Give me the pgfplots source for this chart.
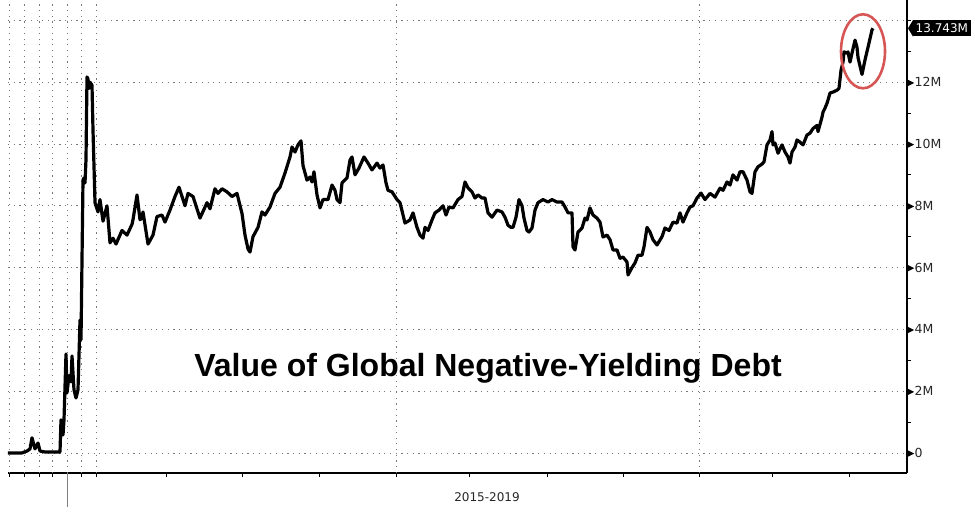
\documentclass[border=0pt]{standalone}
\usepackage{pgfplots}
\pgfplotsset{compat=1.18}
\usepackage{fontspec}
\setmainfont{DejaVu Sans}
\newfontfamily\titlefont{Liberation Sans}
\newcommand{\tri}{\tikz[baseline={(0,-7.4pt)}]\fill[black] (0,0) -- (0,-7pt) -- (7pt,-3.5pt) -- cycle;\hspace{0.5pt}}
\definecolor{gridc}{RGB}{120,120,120}
\definecolor{ringred}{RGB}{214,86,86}
\begin{document}
\begin{tikzpicture}
\useasboundingbox (0,0) rectangle (976pt,511pt);
\begin{axis}[
  at={(8pt,38pt)}, anchor=south west,
  scale only axis, width=899pt, height=473pt,
  xmin=8, xmax=907, ymin=-0.65, ymax=14.66,
  axis x line=bottom, axis y line=right,
  axis line style={-, line width=1.2pt, black},
  xtick={9,24,39,52,67,81,96,166,242,319,396,469,547,623,699,772,849},
  xticklabels={},
  extra x ticks={9,24,39,52,67,81,96,396,699},
  extra x tick labels={},
  extra x tick style={grid=major},
  ytick={0,2,4,6,8,10,12,14},
  yticklabels={\tri0,\tri2M,\tri4M,\tri6M,\tri8M,\tri10M,\tri12M,},
  minor ytick={1,3,5,7,9,11,13},
  ymajorgrids,
  tick align=outside,
  major tick length=4pt, minor tick length=4pt,
  tick style={black, line width=0.8pt},
  major grid style={gridc, line width=0.8pt, dash pattern=on 1.2pt off 4.5pt},
  yticklabel style={anchor=west, inner sep=0pt, xshift=-4pt, font=\fontsize{12.5}{14}\selectfont, text=black!85},
  clip=false,
]
\addplot[black, line width=3.2pt, line join=round] coordinates {
(8,0) (22,0) (27,0.06) (30,0.13) (32,0.49) (35,0.13) (38,0.32) (40,0.06) (45,0.03) (60,0.03)
(61,1.07) (63,0.58) (64,1.07) (66,3.2) (67,1.94) (69,2.5) (71,2.3) (72,3.14) (74,2.04) (76,1.78)
(78,2.04) (80,4.3) (81,3.66) (83,8.83) (84,8.9) (85,8.74) (86,9.5) (87,12.17) (88,12.1) (89,11.8)
(90,12.0) (92,11.9) (93,10.45) (95,8.1) (98,7.8) (100,8.2) (103,7.5) (107,8.0) (110,6.8) (113,6.95)
(116,6.76) (122,7.2) (127,7.05) (132,7.4) (133,7.55) (137,8.35) (140,7.55) (142,7.6) (143,7.8) (148,6.76)
(153,7.05) (157,7.65) (162,7.7) (165,7.47) (170,7.86) (175,8.3) (179,8.6) (185,8.0) (188,8.4) (193,8.3)
(200,7.6) (207,8.1) (210,7.9) (215,8.55) (218,8.4) (222,8.55) (227,8.45) (232,8.3) (237,8.4) (242,7.75)
(245,7.05) (248,6.6) (250,6.5) (253,7.0) (258,7.3) (262,7.8) (265,7.7) (270,7.96) (275,8.4) (280,8.6)
(285,9.06) (290,9.58) (292,9.9) (295,9.74) (298,9.97) (301,10.1) (303,9.3) (307,8.83) (310,8.93) (312,8.77)
(314,9.1) (317,8.35) (320,7.93) (323,8.2) (328,8.2) (332,8.67) (335,8.5) (337,8.2) (340,8.1) (342,8.74)
(347,8.9) (350,9.48) (352,9.58) (355,9.0) (359,9.22) (364,9.58) (368,9.38) (372,9.16) (377,9.38) (380,9.22)
(383,9.32) (386,8.74) (388,8.5) (392,8.45) (397,8.2) (400,8.1) (405,7.44) (410,7.54) (413,7.77) (417,7.3)
(420,7.05) (423,6.95) (425,7.3) (428,7.2) (432,7.54) (435,7.77) (439,7.86) (443,8.0) (446,7.7) (449,7.96)
(453,7.93) (458,8.2) (462,8.3) (465,8.77) (468,8.58) (472,8.45) (475,8.25) (478,8.35) (482,8.25) (485,8.25)
(488,7.77) (492,7.63) (497,7.86) (502,7.8) (505,7.63) (508,7.37) (511,7.3) (513,7.3) (516,7.63) (519,8.2)
(522,8.0) (524,7.6) (527,7.2) (529,7.15) (532,7.28) (535,7.86) (538,8.1) (543,8.2) (548,8.12) (552,8.2)
(557,8.12) (562,8.12) (565,7.96) (568,7.77) (572,7.77) (573,6.67) (575,6.57) (578,7.15) (582,7.28) (585,7.6)
(587,7.54) (590,7.93) (593,7.7) (597,7.6) (600,7.47) (603,6.99) (607,7.05) (610,6.9) (613,6.57) (617,6.57)
(620,6.3) (623,6.34) (627,6.18) (628,5.76) (632,6.0) (635,6.15) (638,6.4) (642,6.4) (644,6.67) (647,7.3)
(650,7.15) (653,6.9) (657,6.73) (662,7.0) (665,7.28) (669,7.2) (673,7.47) (677,7.44) (680,7.77) (683,7.47)
(687,7.77) (690,7.96) (693,8.0) (697,8.25) (701,8.41) (705,8.2) (710,8.4) (715,8.28) (720,8.57) (723,8.5)
(727,8.77) (730,8.67) (733,9.0) (737,8.83) (740,9.1) (743,9.1) (747,8.83) (750,8.45) (752,8.4) (755,9.1)
(758,9.26) (762,9.35) (764,9.42) (767,9.97) (770,10.13) (772,10.4) (773,9.97) (775,10.03) (778,9.7) (782,9.97)
(785,9.74) (788,9.58) (790,9.38) (792,9.74) (795,9.9) (797,10.13) (800,10.06) (803,9.97) (807,10.29) (810,10.35)
(813,10.5) (817,10.6) (818,10.4) (822,10.87) (823,11.03) (825,11.16) (827,11.32) (828,11.42) (830,11.65) (833,11.68)
(837,11.74) (839,11.8) (841,12.39) (843,12.65) (844,12.98) (847,12.94) (848,12.98) (850,12.65) (852,12.94) (855,13.36)
(857,13.13) (858,12.8) (862,12.25) (865,12.72) (868,13.13) (872,13.69) (873,13.743)
};
% red ring around the latest move
\draw[ringred, line width=2.6pt] (axis cs:863,13.0) ellipse [x radius=22pt, y radius=37pt];
% cursor line below the axis
\draw[gray, line width=0.8pt] (axis cs:67,-0.65) -- ([yshift=-34pt]axis cs:67,-0.65);
% last-value tag
\node[fill=black, text=white, inner xsep=2.5pt, inner ysep=3.5pt, anchor=west,
      font=\fontsize{12}{14}\selectfont] (tag) at ([xshift=6pt]axis cs:907,13.743) {13.743M};
\fill[black] (tag.north west) -- ([xshift=-5pt]tag.west) -- (tag.south west) -- cycle;
% title and period label
\node[font=\titlefont\bfseries\fontsize{32}{36}\selectfont] at (axis cs:488,2.75) {Value of Global Negative-Yielding Debt};
\node[anchor=north, font=\fontsize{12}{14}\selectfont, text=black!85] at ([yshift=-16pt]axis cs:487,-0.65) {2015-2019};
\end{axis}
\end{tikzpicture}
\end{document}
